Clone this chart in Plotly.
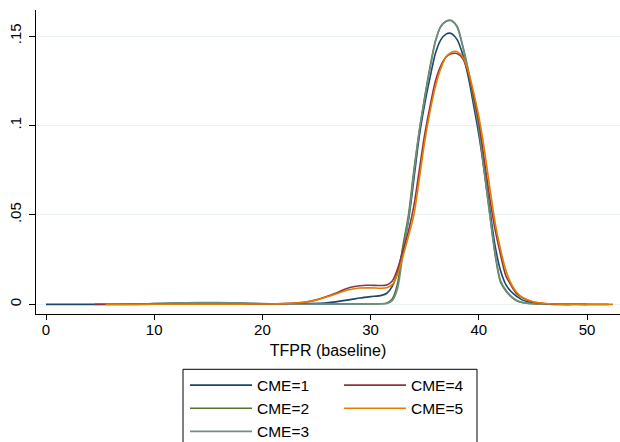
import plotly.graph_objects as go

# ---- data ----
names = ["CME=1", "CME=2", "CME=3", "CME=4", "CME=5"]
colors = ["#1a476f", "#55752f", "#6e8e84", "#90353b", "#e37e00"]

x_cme1 = [0, 4, 8, 12, 16, 20, 22, 24, 26, 28, 29, 30, 31, 31.5, 32, 32.5, 33, 33.5, 34, 34.5, 35, 35.5, 36, 36.5, 37, 37.3, 37.5, 38, 38.5, 39, 39.5, 40, 40.5, 41, 41.5, 42, 42.5, 43, 43.5, 44, 45, 46, 47, 48, 50]
y_cme1 = [0.0, 0.0, 0.0001, 0.0001, 0.0001, 0.0001, 0.0002, 0.0004, 0.0009, 0.0025, 0.0035, 0.0043, 0.005, 0.0062, 0.01, 0.018, 0.032, 0.047, 0.07, 0.094, 0.112, 0.127, 0.1405, 0.148, 0.1512, 0.1516, 0.1513, 0.148, 0.14, 0.128, 0.112, 0.095, 0.075, 0.054, 0.033, 0.019, 0.011, 0.007, 0.0045, 0.0025, 0.0008, 0.0003, 0.0001, 0.0, 0.0]

x_cme2 = [8.8, 10, 12, 14, 16, 18, 20, 22, 25, 28, 30, 31, 31.5, 32, 32.5, 33, 33.5, 34, 34.5, 35, 35.5, 36, 36.5, 37, 37.3, 37.5, 38, 38.5, 39, 39.5, 40, 40.5, 41, 41.5, 42, 42.5, 43, 43.5, 44, 45, 46, 47, 48.5]
y_cme2 = [0.0002, 0.0004, 0.0006, 0.0008, 0.0008, 0.0006, 0.0003, 0.0001, 0.0001, 0.0001, 0.0002, 0.0003, 0.0008, 0.003, 0.012, 0.033, 0.05, 0.075, 0.097, 0.116, 0.133, 0.1475, 0.1555, 0.1583, 0.1587, 0.1585, 0.155, 0.1445, 0.131, 0.115, 0.098, 0.074, 0.051, 0.028, 0.0125, 0.0075, 0.0042, 0.002, 0.001, 0.0003, 0.0001, 0.0, 0.0]

x_cme3 = [8.8, 10, 12, 14, 16, 18, 20, 22, 25, 28, 30, 31, 31.5, 32, 32.5, 33, 33.5, 34, 34.5, 35, 35.5, 36, 36.5, 37, 37.3, 37.5, 38, 38.5, 39, 39.5, 40, 40.5, 41, 41.5, 42, 42.5, 43, 43.5, 44, 45, 46, 47, 48.5]
y_cme3 = [0.0002, 0.0005, 0.0008, 0.001, 0.001, 0.0008, 0.0004, 0.0001, 0.0001, 0.0001, 0.0002, 0.0003, 0.0005, 0.002, 0.009, 0.029, 0.048, 0.073, 0.097, 0.115, 0.132, 0.147, 0.1555, 0.1585, 0.159, 0.1587, 0.1555, 0.145, 0.132, 0.116, 0.099, 0.075, 0.051, 0.029, 0.0135, 0.008, 0.0045, 0.0023, 0.0011, 0.0003, 0.0001, 0.0, 0.0]

x_cme4 = [4.5, 8, 12, 16, 20, 22, 24, 25, 26, 27, 28, 29, 29.6, 30, 31, 31.5, 32, 32.5, 33, 33.5, 34, 34.5, 35, 35.5, 36, 36.5, 37, 37.5, 37.8, 38, 38.5, 39, 39.5, 40, 40.5, 41, 41.5, 42, 42.5, 43, 43.5, 44, 45, 46, 47, 48, 50, 52]
y_cme4 = [0.0, 0.0, 0.0001, 0.0001, 0.0002, 0.0004, 0.0013, 0.0025, 0.0045, 0.0068, 0.0093, 0.0104, 0.0107, 0.0107, 0.0105, 0.0108, 0.013, 0.02, 0.03, 0.041, 0.055, 0.075, 0.095, 0.111, 0.125, 0.1335, 0.1385, 0.1402, 0.1404, 0.1402, 0.1375, 0.13, 0.117, 0.102, 0.081, 0.06, 0.042, 0.028, 0.016, 0.0105, 0.006, 0.0038, 0.0013, 0.0005, 0.0002, 0.0001, 0.0, 0.0]

x_cme5 = [5.5, 8, 12, 16, 20, 22, 24, 25, 26, 27, 28, 29, 30, 31, 31.5, 32, 32.5, 33, 33.5, 34, 34.5, 35, 35.5, 36, 36.5, 37, 37.5, 37.85, 38, 38.5, 39, 39.5, 40, 40.5, 41, 41.5, 42, 42.5, 43, 43.5, 44, 45, 46, 47, 48, 50, 52.4]
y_cme5 = [0.0, 0.0, 0.0001, 0.0001, 0.0002, 0.0004, 0.0013, 0.0024, 0.0042, 0.0062, 0.0082, 0.0091, 0.0092, 0.009, 0.0093, 0.011, 0.017, 0.027, 0.038, 0.05, 0.07, 0.091, 0.108, 0.122, 0.132, 0.1385, 0.141, 0.1415, 0.1413, 0.1385, 0.131, 0.119, 0.105, 0.087, 0.066, 0.046, 0.031, 0.019, 0.0115, 0.0068, 0.004, 0.0014, 0.0006, 0.0002, 0.0001, 0.0, 0.0]

xs = [x_cme1, x_cme2, x_cme3, x_cme4, x_cme5]
ys = [y_cme1, y_cme2, y_cme3, y_cme4, y_cme5]
legend_ids = ["legend", "legend", "legend", "legend2", "legend2"]

x_tickvals = [0, 10, 20, 30, 40, 50]
y_tickvals = [0, 0.05, 0.1, 0.15]
y_ticktext = ["0", ".05", ".1", ".15"]
x_title = "TFPR (baseline)"

FONT = "Liberation Sans, Arial, sans-serif"

# plot area in pixels: left 36, right 620, top 10, bottom 314
PL, PR, PT, PB = 36, 620, 10, 314
W, H = 620, 442

fig = go.Figure()
for name, col, x, y, lg in zip(names, colors, xs, ys, legend_ids):
    fig.add_trace(go.Scatter(
        x=x, y=y, mode="lines", name=name, legend=lg,
        line=dict(color=col, width=1.6, shape="spline", smoothing=0.8),
        hoverinfo="skip",
    ))

legend_common = dict(
    orientation="v", xref="container", yref="container",
    xanchor="left", yanchor="top", bgcolor="rgba(0,0,0,0)",
    borderwidth=0, itemwidth=62, tracegroupgap=0,
    font=dict(family=FONT, size=15.5, color="black"),
)

fig.update_layout(
    width=W, height=H,
    margin=dict(l=PL, r=W - PR, t=PT, b=H - PB, pad=0, autoexpand=False),
    paper_bgcolor="white", plot_bgcolor="white",
    font=dict(family=FONT, size=15, color="black"),
    showlegend=True,
    legend=dict(x=185 / W, y=1 - 368.5 / H, **legend_common),
    legend2=dict(x=339 / W, y=1 - 368.5 / H, **legend_common),
    xaxis=dict(
        range=[-0.924, 53.05], tickvals=x_tickvals,
        showline=True, linecolor="black", linewidth=1,
        ticks="outside", ticklen=5, tickcolor="black", tickwidth=1,
        ticklabelstandoff=-3,
        showgrid=False, zeroline=False, automargin=False,
        tickfont=dict(family=FONT, size=15, color="black"),
        title=dict(text=x_title, font=dict(family=FONT, size=16, color="black"), standoff=7),
    ),
    yaxis=dict(
        range=[-0.0054, 0.16455], tickvals=y_tickvals, ticktext=y_ticktext,
        tickangle=-90, automargin=False, ticklabelstandoff=2,
        showline=True, linecolor="black", linewidth=1,
        ticks="outside", ticklen=6, tickcolor="black", tickwidth=1,
        showgrid=True, gridcolor="#eaf2f3", gridwidth=1, zeroline=False,
        tickfont=dict(family=FONT, size=15, color="black"),
    ),
    shapes=[dict(
        type="rect", xref="paper", yref="paper",
        x0=(183 - PL) / (PR - PL), x1=(477 - PL) / (PR - PL),
        y0=(PB - 369.3) / (PB - PT), y1=(PB - 470) / (PB - PT),
        line=dict(color="black", width=1), fillcolor="rgba(0,0,0,0)", layer="above",
    )],
)

fig.write_html("out.html")
